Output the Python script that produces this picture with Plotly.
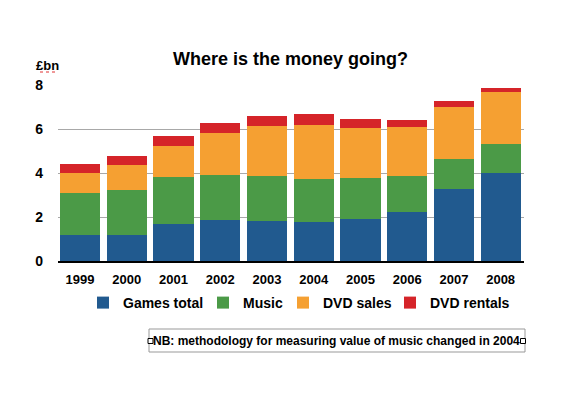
import plotly.graph_objects as go

years = ["1999", "2000", "2001", "2002", "2003", "2004", "2005", "2006", "2007", "2008"]
games = [1.18, 1.18, 1.68, 1.86, 1.82, 1.77, 1.91, 2.23, 3.27, 4.00]
music = [1.90, 2.05, 2.14, 2.05, 2.04, 1.96, 1.86, 1.63, 1.37, 1.32]
dvd_sales = [0.92, 1.13, 1.41, 1.91, 2.28, 2.45, 2.28, 2.23, 2.36, 2.36]
dvd_rentals = [0.41, 0.41, 0.45, 0.45, 0.45, 0.50, 0.40, 0.32, 0.27, 0.18]
y_ticks = [0, 2, 4, 6, 8]

series_names = ["Games total", "Music", "DVD sales", "DVD rentals"]
series_values = [games, music, dvd_sales, dvd_rentals]
series_colors = ["#215a8f", "#4b9a47", "#f5a032", "#d52429"]

# page is rendered with an 8px body margin; work in screen pixels and compensate
OFF = 8
W, H = 574, 393
# plot area in screen pixels
SX0, SX1, SY0, SY1 = 58, 524, 85, 261
L = SX0 - OFF
T = SY0 - OFF
R = W - (SX1 - OFF)
B = H - (SY1 - OFF)
PW, PH = SX1 - SX0, SY1 - SY0


def px(x):
    return (x - SX0) / PW


def py(y):
    return (SY1 - y) / PH


FONT = "Liberation Sans"

# legend text start positions (screen px)
legend_text_x = [122, 242, 322, 429]
legend_names = ["legend", "legend2", "legend3", "legend4"]

fig = go.Figure()
for name, vals, col, lg in zip(series_names, series_values, series_colors, legend_names):
    fig.add_trace(go.Bar(x=years, y=vals, name=name, legend=lg,
                         marker=dict(color=col, line=dict(width=0))))

layout_legends = {}
for lg, tx in zip(legend_names, legend_text_x):
    layout_legends[lg] = dict(
        orientation="h",
        x=px(tx - 39), xanchor="left",
        y=py(303), yanchor="middle",
        font=dict(family=FONT, size=14, color="black", weight="bold"),
        bgcolor="rgba(0,0,0,0)",
        itemwidth=30,
    )

fig.update_layout(
    width=W, height=H,
    margin=dict(l=L, r=R, t=T, b=B, autoexpand=False),
    barmode="stack",
    bargap=0.14,
    plot_bgcolor="white",
    paper_bgcolor="white",
    font=dict(family=FONT, size=13, color="black"),
    showlegend=True,
    xaxis=dict(
        type="category",
        range=[-0.47, 9.5],
        showgrid=False,
        showline=True, linecolor="black", linewidth=1.5,
        ticks="",
        tickfont=dict(family=FONT, size=13, color="black", weight="bold"),
        ticklabelstandoff=6,
    ),
    yaxis=dict(
        range=[0, 8],
        tickvals=y_ticks,
        showgrid=True, gridcolor="#a8a8a8", gridwidth=1,
        zeroline=False,
        showline=False,
        ticks="",
        tickfont=dict(family=FONT, size=14, color="black", weight="bold"),
        ticklabelstandoff=14,
    ),
    **layout_legends,
)

# Title
fig.add_annotation(
    text="Where is the money going?", xref="paper", yref="paper",
    x=px(290), y=py(59), xanchor="center", yanchor="middle",
    showarrow=False, font=dict(family=FONT, size=18, color="black", weight="bold"),
)
# Unit label
fig.add_annotation(
    text="£bn", xref="paper", yref="paper",
    x=px(34), y=py(65), xanchor="left", yanchor="middle",
    showarrow=False, font=dict(family=FONT, size=13, color="black", weight="bold"),
)
fig.add_shape(type="line", xref="paper", yref="paper",
              x0=px(40), x1=px(56), y0=py(72), y1=py(72),
              line=dict(color="#e03030", width=1, dash="dot"))

# Note box
fig.add_shape(type="rect", xref="paper", yref="paper",
              x0=px(149), x1=px(525), y0=py(329), y1=py(352),
              line=dict(color="#999999", width=1), fillcolor="rgba(0,0,0,0)")
fig.add_annotation(
    text="NB: methodology for measuring value of music changed in 2004", xref="paper", yref="paper",
    x=px(336.5), y=py(341), xanchor="center", yanchor="middle",
    showarrow=False, font=dict(family=FONT, size=12, color="black", weight="bold"),
)
for hx in (150.5, 523):
    fig.add_shape(type="rect", xref="paper", yref="paper",
                  x0=px(hx - 2.5), x1=px(hx + 2.5), y0=py(338.5), y1=py(343.5),
                  line=dict(color="black", width=1), fillcolor="white")

fig.write_html("out.html")
